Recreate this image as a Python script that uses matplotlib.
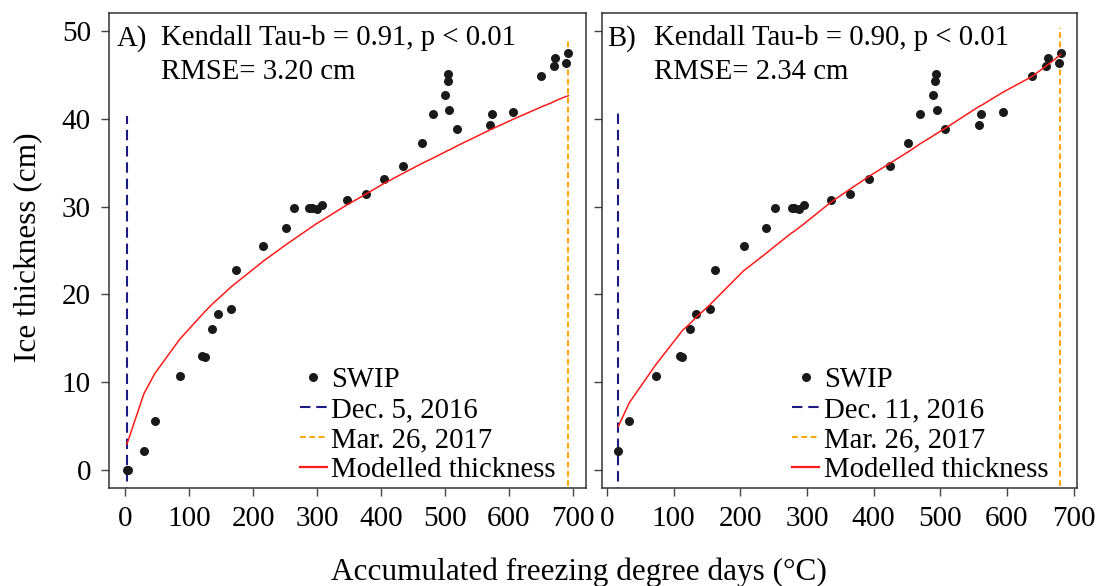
import matplotlib.pyplot as plt
from matplotlib.lines import Line2D

plt.rcParams['font.family'] = ['Liberation Serif', 'DejaVu Serif']

# Panel A: AFDD from Dec. 5, 2016
afdd_a = [2, 4, 29, 46, 85, 120, 125, 136, 145, 166, 173, 216, 252, 264, 288, 292,
          300, 307, 347, 376, 404, 435, 464, 481, 500, 505, 505, 506, 519, 570, 573,
          606, 650, 670, 672, 689, 693]
thick_a = [0, 0, 2.2, 5.6, 10.7, 13.0, 12.9, 16.1, 17.8, 18.4, 22.8, 25.5, 27.6, 29.8,
           29.8, 29.8, 29.7, 30.2, 30.7, 31.4, 33.1, 34.6, 37.2, 40.5, 42.7, 44.3, 45.1,
           41.0, 38.8, 39.3, 40.5, 40.7, 44.8, 46.0, 46.9, 46.3, 47.4]
model_a = [3.0, 3.3, 8.7, 11.0, 14.9, 17.7, 18.1, 18.9, 19.5, 20.9, 21.3, 23.8, 25.7,
           26.3, 27.5, 27.7, 28.1, 28.4, 30.2, 31.4, 32.6, 33.8, 34.9, 35.5, 36.2, 36.4,
           36.4, 36.4, 36.9, 38.7, 38.8, 39.9, 41.3, 41.9, 42.0, 42.5, 42.6]

# Panel B: AFDD from Dec. 11, 2016
afdd_b = [17, 33.5, 73, 109, 113, 124.6, 133.6, 154, 161.7, 205, 239, 252, 277, 281,
          288, 295, 336, 365, 392.5, 424, 451.5, 469, 488.5, 492, 493, 494.5, 507.5,
          558.6, 561.6, 594, 638, 659, 661, 677.7, 680.7]
thick_b = thick_a[2:]
model_b = [5.0, 7.7, 12.0, 15.5, 15.9, 16.7, 17.4, 18.8, 19.4, 22.7, 24.7, 25.5, 27.0,
           27.2, 27.6, 28.0, 30.5, 32.0, 33.4, 34.9, 36.2, 37.1, 38.0, 38.2, 38.2, 38.3,
           38.9, 41.4, 41.5, 43.0, 44.8, 46.0, 46.1, 47.1, 47.3]

# start / end dates (x position, top of the dashed line)
start_a, start_top_a = 2, 40.3
end_a, end_top_a = 692.7, 48.8
start_b, start_top_b = 17, 40.6
end_b, end_top_b = 680, 50.3

panels = [
    ('A)', 'Kendall Tau-b = 0.91, p < 0.01', 'RMSE= 3.20 cm', 'Dec. 5, 2016',
     afdd_a, thick_a, model_a, start_a, start_top_a, end_a, end_top_a, (-25.5, 720.5)),
    ('B)', 'Kendall Tau-b = 0.90, p < 0.01', 'RMSE= 2.34 cm', 'Dec. 11, 2016',
     afdd_b, thick_b, model_b, start_b, start_top_b, end_b, end_top_b, (-7.5, 705)),
]

W, H = 1117, 586
fig = plt.figure(figsize=(W / 100, H / 100), dpi=100)
lefts = [109, 602]
widths = [477, 475]

navy = '#1c1c80'
orange = '#ffa500'
fs = 20.7

for i, (tag, tau, rmse, start_lbl, x, y, m, xs, ys_top, xe, ye_top, xl) in enumerate(panels):
    ax = fig.add_axes([lefts[i] / W, 1 - 488 / H, widths[i] / W, 475 / H])

    ax.plot([xs, xs], [-5, ys_top], color=navy, lw=1.5, dashes=(5, 2.8))
    ax.plot([xe, xe], [-5, ye_top], color=orange, lw=1.4, dashes=(3, 1.8))
    ax.plot(x, y, 'o', color='#1a1a1a', ms=6.5, mew=0)
    ax.plot(x, m, color='#ff1a1a', lw=1.1)

    ax.set_xlim(*xl)
    ax.set_ylim(-2, 52)
    ax.set_xticks(range(0, 701, 100))
    ax.set_yticks(range(0, 51, 10))
    ax.tick_params(direction='out', length=6, width=1, color='#444444',
                   labelsize=21, pad=7)
    if i == 1:
        ax.set_yticklabels([])
    for s in ax.spines.values():
        s.set_color('#333333')
        s.set_linewidth(1.1)

    ax.text(0.017 if i == 0 else 0.010, 0.947, tag, transform=ax.transAxes,
            fontsize=fs, va='center', ha='left')
    ax.text(0.109, 0.947, tau, transform=ax.transAxes, fontsize=fs, va='center', ha='left')
    ax.text(0.109, 0.876, rmse, transform=ax.transAxes, fontsize=fs, va='center', ha='left')

    handles = [
        Line2D([], [], ls='none', marker='o', color='#1a1a1a', ms=6.5, mew=0),
        Line2D([], [], color=navy, lw=1.5, dashes=(5, 2.8)),
        Line2D([], [], color=orange, lw=1.4, dashes=(3, 1.8)),
        Line2D([], [], color='#ff1a1a', lw=1.6),
    ]
    labels = ['SWIP', start_lbl, 'Mar. 26, 2017', 'Modelled thickness']
    ax.legend(handles, labels, loc='upper left', bbox_to_anchor=(0.40, 0.254),
              frameon=False, fontsize=fs, handlelength=0.95, handletextpad=0.15,
              labelspacing=0.13, borderpad=0, borderaxespad=0)

fig.text(0.025, 1 - 247 / H, 'Ice thickness (cm)', rotation=90, fontsize=22.5,
         ha='center', va='center')
fig.text(579 / W, 1 - 572 / H, 'Accumulated freezing degree days (°C)', fontsize=22.5,
         ha='center', va='center')

fig.savefig('out.png', dpi=100)
